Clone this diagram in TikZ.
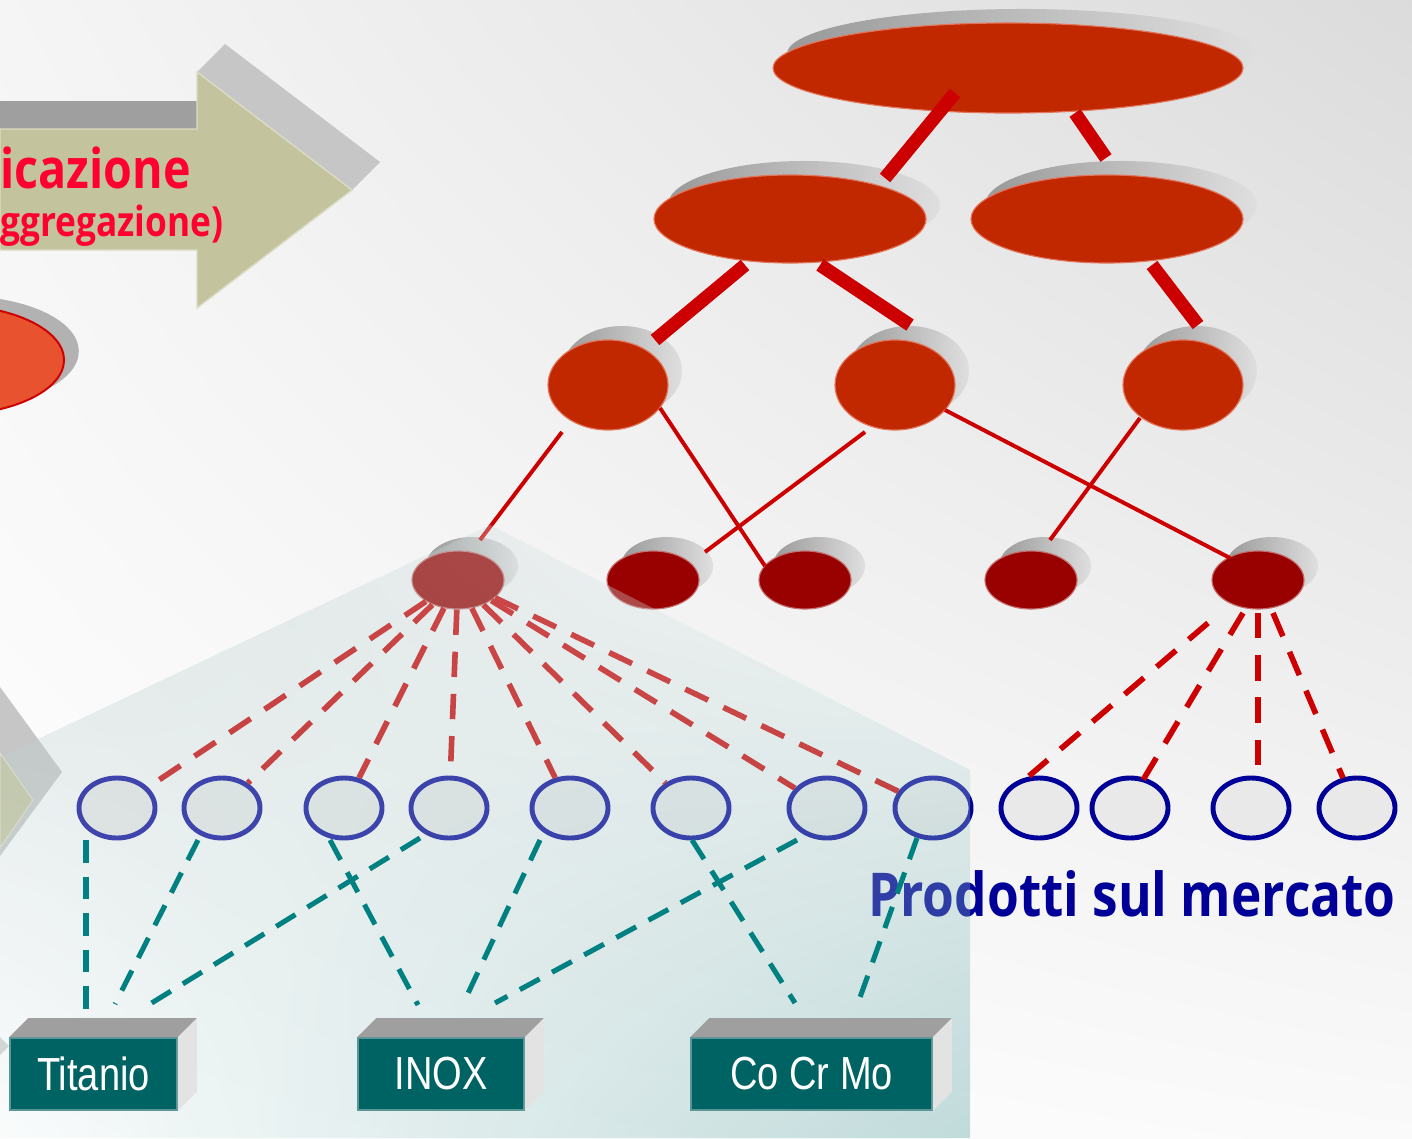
\documentclass[tikz,border=0pt]{standalone}
\usepackage{fontspec}
\usetikzlibrary{shapes.geometric,shadows,shadings,calc}
\newfontfamily\handfont[FakeStretch=0.85]{Open Sans}
\newfontfamily\narrowfont[FakeStretch=0.82]{Liberation Sans}
\definecolor{treered}{RGB}{194,40,0}
\definecolor{treeline}{RGB}{226,118,92}
\definecolor{leafred}{RGB}{153,0,0}
\definecolor{leafline}{RGB}{196,112,112}
\definecolor{linkred}{RGB}{204,0,0}
\definecolor{prodblue}{RGB}{0,0,153}
\definecolor{prodfill}{RGB}{233,233,233}
\definecolor{linkteal}{RGB}{0,128,128}
\definecolor{boxteal}{RGB}{0,99,99}
\definecolor{boxline}{RGB}{90,150,150}
\definecolor{arrowolive}{RGB}{195,196,158}
\definecolor{titlered}{RGB}{255,0,48}
\definecolor{leftred}{RGB}{232,82,46}
\definecolor{veilul}{RGB}{165,188,188}
\definecolor{veilur}{RGB}{252,254,254}
\definecolor{veilll}{RGB}{240,246,246}
\definecolor{veillr}{RGB}{70,150,150}
\begin{document}
\begin{tikzpicture}[x=0.025cm, y=-0.025cm,
  tree node/.style={ellipse, inner sep=0pt, fill=treered, draw=treeline, line width=0.8pt,
    general shadow={shadow xshift=0.35cm, shadow yshift=0.35cm, left color=gray!80, right color=gray!25}},
  leaf node/.style={tree node, fill=leafred, draw=leafline, minimum width=2.3cm, minimum height=1.45cm},
  prod node/.style={ellipse, inner sep=0pt, fill=prodfill, draw=prodblue, line width=3.5pt,
    minimum width=1.9cm, minimum height=1.5cm},
  metal box/.style={rectangle, fill=boxteal, draw=boxline, line width=1.2pt, minimum height=1.8cm,
    text=white, font=\narrowfont\fontsize{33}{33}\selectfont},
  thick bar/.style={linkred, line width=9.5pt},
  thin link/.style={linkred, line width=2.8pt},
  red dash/.style={linkred, line width=4pt, dash pattern=on 18pt off 12pt},
  teal dash/.style={linkteal, line width=3.6pt, dash pattern=on 16pt off 10pt}]

  \path[use as bounding box] (0,0) rectangle (1412,1138);
  \clip (0,0) rectangle (1412,1138);
  \shade[upper left=gray!8, upper right=gray!28, lower left=white, lower right=gray!4] (0,0) rectangle (1412,1138);

  \fill[gray!75] (0,101) -- (225,101) -- (197,129) -- (0,129) -- cycle;
  \fill[gray!45] (197,72) -- (225,44) -- (380,162) -- (352,190) -- cycle;
  \filldraw[fill=arrowolive, draw=arrowolive!60!white, line width=1pt]
    (0,129) -- (197,129) -- (197,72) -- (352,190) -- (197,308) -- (197,250) -- (0,250) -- cycle;
  \node[anchor=base west, inner sep=0pt, text=titlered, font=\handfont\bfseries\fontsize{39}{39}\selectfont] (cls) at (0,188) {icazione};
  \node[anchor=base west, inner sep=0pt, text=titlered, font=\handfont\bfseries\fontsize{29.5}{29.5}\selectfont] (agg) at (0,236) {ggregazione)};

  \node[ellipse, fill=leftred, draw=linkred, line width=1.4pt, minimum width=5.8cm, minimum height=2.75cm,
    general shadow={shadow xshift=0.37cm, shadow yshift=0.22cm, fill=gray!60}] (oval) at (-52,360) {};

  \fill[gray!45] (0,687) -- (62,772) -- (0,856) -- cycle;
  \filldraw[fill=arrowolive, draw=arrowolive!60!white, line width=1pt] (0,753) -- (33,800) -- (0,848) -- cycle;
  \fill[gray!40] (0,1037) -- (9,1046) -- (0,1055) -- cycle;

  \node[tree node, minimum width=11.75cm, minimum height=2.25cm] (root) at (1008,68) {};
  \node[tree node, minimum width=6.8cm, minimum height=2.2cm] (m1) at (790,219) {};
  \node[tree node, minimum width=6.8cm, minimum height=2.2cm] (m2) at (1107,219) {};
  \node[tree node, minimum width=3cm, minimum height=2.25cm] (s1) at (608,385) {};
  \node[tree node, minimum width=3cm, minimum height=2.25cm] (s2) at (895,385) {};
  \node[tree node, minimum width=3cm, minimum height=2.25cm] (s3) at (1183,385) {};
  \node[leaf node] (l1) at (458,580) {};
  \node[leaf node] (l2) at (653,580) {};
  \node[leaf node] (l3) at (805,580) {};
  \node[leaf node] (l4) at (1031,580) {};
  \node[leaf node] (l5) at (1258,580) {};

  \draw[thick bar] ($(root)+(-53,25)$) -- ($(m1)+(95,-41)$);
  \draw[thick bar] ($(root)+(67,45)$) -- ($(m2)+(-1,-61)$);
  \draw[thick bar] ($(m1)+(-45,46)$) -- ($(s1)+(47,-45)$);
  \draw[thick bar] ($(m1)+(30,46)$) -- ($(s2)+(15,-60)$);
  \draw[thick bar] ($(m2)+(45,46)$) -- ($(s3)+(15,-60)$);

  \draw[thin link] ($(s1)+(-46,47)$) -- ($(l1)+(22,-40)$);
  \draw[thin link] ($(s1)+(52,23)$) -- ($(l3)+(-40,-14)$);
  \draw[thin link] ($(s2)+(-30,47)$) -- ($(l2)+(52,-28)$);
  \draw[thin link] ($(s2)+(50,25)$) -- ($(l5)+(-28,-22)$);
  \draw[thin link] ($(s3)+(-43,33)$) -- ($(l4)+(19,-40)$);

  \foreach \x [count=\i] in {117,222,344,449,570,691,827,933,1039,1130,1251,1357}
    \node[prod node] (p\i) at (\x,808) {};
  \foreach \i in {1,...,8}
    \draw[red dash] (l1) -- (p\i);
  \draw[red dash] ($(l5)+(-50,43)$) -- ($(p9)+(-10,-32)$);
  \draw[red dash] ($(l5)+(-15,33)$) -- ($(p10)+(13,-28)$);
  \draw[red dash] ($(l5)+(0,33)$) -- ($(p11)+(7,-30)$);
  \draw[red dash] ($(l5)+(15,33)$) -- ($(p12)+(-14,-30)$);

  \node[anchor=base west, inner sep=0pt, text=prodblue, font=\handfont\bfseries\fontsize{43}{43}\selectfont] (market) at (868,916) {Prodotti sul mercato};

  \begin{scope}[fill opacity=0.32]
    \shade[upper left=veilul, upper right=veilur, lower left=veilll, lower right=veillr]
      (490,525) -- (970,770) -- (970,1138) -- (0,1138) -- (0,757) -- cycle;
  \end{scope}

  \node[metal box, minimum width=4.175cm] (ti) at (93.5,1074) {Titanio};
  \node[metal box, minimum width=4.15cm] (inox) at (441,1074) {INOX};
  \node[metal box, minimum width=6.025cm] (ccm) at (811.5,1074) {Co Cr Mo};
  \foreach \b in {ti,inox,ccm} {
    \fill[gray!75] (\b.north west) -- ++(19,-19) -- ($(\b.north east)+(19,-19)$) -- (\b.north east) -- cycle;
    \fill[gray!22] (\b.north east) -- ++(19,-19) -- ($(\b.south east)+(19,-19)$) -- (\b.south east) -- cycle;
  }

  \draw[teal dash] ($(p1)+(-31,32)$) -- ($(ti)+(-7.5,-54)$);
  \draw[teal dash] ($(p2)+(-24,32)$) -- ($(ti)+(21.5,-70)$);
  \draw[teal dash] ($(p4)+(-29,30)$) -- ($(ti)+(56.5,-70)$);
  \draw[teal dash] ($(p3)+(-14,32)$) -- ($(inox)+(-23,-69)$);
  \draw[teal dash] ($(p5)+(-30,32)$) -- ($(inox)+(22,-70)$);
  \draw[teal dash] ($(p7)+(-30,32)$) -- ($(inox)+(54,-71)$);
  \draw[teal dash] ($(p6)+(1,32)$) -- ($(ccm)+(-16.5,-71)$);
  \draw[teal dash] ($(p8)+(-16,30)$) -- ($(ccm)+(46.5,-71)$);
\end{tikzpicture}
\end{document}
